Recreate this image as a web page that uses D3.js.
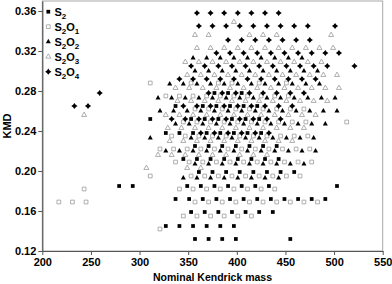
<!DOCTYPE html>
<html>
<head>
<meta charset="utf-8">
<script src="https://cdn.jsdelivr.net/npm/d3@7"></script>
<style>
  body { margin: 0; background: #fff; }
  svg { display: block; font-family: Arial, "Liberation Sans", sans-serif; }
</style>
</head>
<body>
<svg id="chart" width="392" height="284"></svg>
<script>
const xTicks = [200, 250, 300, 350, 400, 450, 500, 550];
const yTicks = [0.12, 0.16, 0.2, 0.24, 0.28, 0.32, 0.36];
const xTitle = "Nominal Kendrick mass";
const yTitle = "KMD";

// legend labels, alternating normal / subscript parts
const legendLabels = [
  ["S", "2"],
  ["S", "2", "O", "1"],
  ["S", "2", "O", "2"],
  ["S", "2", "O", "3"],
  ["S", "2", "O", "4"],
];

// each row: [KMD, nominal Kendrick masses]
const s2Rows = [
  [0.132, [357, 371, 385, 399, 455]],
  [0.145, [327, 341, 355, 369, 383, 397]],
  [0.159, [353, 367, 381, 395, 409, 423, 437]],
  [0.172, [337, 351, 365, 379, 393, 407, 421, 435, 449, 463, 477, 491]],
  [0.185, [279, 293, 349, 363, 377, 391, 405, 419, 433, 503]],
  [0.199, [361, 375, 389, 403, 417, 431, 445, 459]],
  [0.212, [345, 359, 373, 387, 401, 415, 429, 443]],
  [0.225, [357, 371, 385, 399, 413, 427, 441]],
  [0.238, [327, 341, 355, 369, 383, 397, 411, 425]],
  [0.252, [311, 353, 367, 381, 395, 409, 423]],
  [0.265, [337, 365, 379, 393, 407, 421]],
  [0.278, [377, 391, 405]],
];

const s2o1Rows = [
  [0.142, [321]],
  [0.155, [345, 359, 373, 387, 401, 415]],
  [0.169, [217, 231, 245, 357, 371, 385, 399, 413, 427, 441, 455, 469, 483]],
  [0.182, [243, 341, 355, 369, 383, 397, 411, 425, 439]],
  [0.195, [311, 353, 367, 381, 395, 409, 423, 437, 451, 465]],
  [0.209, [337, 351, 365, 379, 393, 407, 421, 435, 449, 463, 477]],
  [0.222, [321, 335, 349, 363, 377, 391, 405, 419, 433, 447, 461, 475]],
  [0.235, [333, 347, 361, 375, 389, 403, 417, 431, 445, 459, 473]],
  [0.249, [345, 359, 373, 387, 401, 415, 429, 443, 457, 471, 513]],
  [0.262, [357, 371, 385, 399, 413, 427, 441, 455, 469]],
  [0.275, [327, 341, 355, 369, 383, 397, 411, 425, 439, 453]],
  [0.288, [311, 353, 381, 395, 423, 451]],
];

const s2o2Rows = [
  [0.313, [355, 369, 383, 397, 411, 425, 439, 453, 467]],
  [0.300, [357, 371, 385, 399, 413, 427, 441, 455, 469, 483]],
  [0.287, [331, 345, 359, 373, 387, 401, 415, 429, 443, 457, 471, 485]],
  [0.273, [319, 333, 347, 361, 375, 389, 403, 417, 431, 445, 459, 473, 487, 501]],
  [0.260, [321, 335, 349, 363, 377, 391, 405, 419, 433, 447, 461, 475, 489, 503]],
  [0.247, [337, 351, 365, 379, 393, 407, 421, 435, 449, 463, 477, 491]],
  [0.233, [311, 353, 367, 381, 395, 409, 423, 437, 451, 465, 479]],
  [0.220, [327, 341, 355, 369, 383, 397, 411, 425, 439, 453, 467, 481]],
  [0.207, [357, 371, 385, 399, 413, 427, 441, 455, 469]],
  [0.193, [345, 359, 373, 387, 401, 415, 429, 443]],
];

const s2o3Rows = [
  [0.349, [397]],
  [0.336, [357, 371, 413, 427, 441, 497]],
  [0.323, [359, 373, 387, 401, 415, 429, 443, 457, 471, 485, 499]],
  [0.309, [347, 361, 375, 389, 403, 417, 431, 445, 459, 473, 487]],
  [0.296, [349, 363, 377, 391, 405, 419, 433, 447, 461, 475, 489, 503]],
  [0.283, [337, 351, 365, 379, 393, 407, 421, 435, 449, 463, 477, 491, 505]],
  [0.270, [339, 353, 367, 381, 395, 409, 423, 437, 451, 465, 479, 493]],
  [0.256, [243, 327, 341, 355, 369, 383, 397, 411, 425, 439, 453, 467, 481]],
  [0.243, [329, 343, 357, 371, 385, 399, 413, 427, 441, 455, 469]],
  [0.230, [331, 345, 359, 373, 387, 401, 415, 429, 443, 457]],
  [0.216, [319, 333, 347, 361, 375, 389, 403, 417, 431]],
  [0.203, [307, 349, 363]],
];

const s2o4Rows = [
  [0.358, [359, 373, 387, 401, 415, 429, 443]],
  [0.345, [361, 375, 389, 403, 417, 431, 445, 459, 473, 501]],
  [0.331, [391, 405, 419, 433, 447, 461, 475]],
  [0.318, [379, 393, 407, 421, 435, 449, 463, 477, 491, 505]],
  [0.305, [353, 367, 381, 395, 409, 423, 437, 451, 465, 479, 493, 521]],
  [0.292, [341, 355, 369, 383, 397, 411, 425, 439, 453, 467, 481]],
  [0.278, [259, 371, 385, 399, 413, 427, 441, 455, 469]],
  [0.265, [233, 247, 345, 359, 373, 387, 401, 415, 429, 443, 457]],
  [0.252, [333, 347, 361, 375, 389, 403, 417, 431, 445]],
  [0.238, [363, 377, 391, 405, 419, 433]],
];

const svg = d3.select("#chart");
const x = d3.scaleLinear().domain([200, 550]).range([42.3, 382.7]);
const y = d3.scaleLinear().domain([0.12, 0.37]).range([251, 1]);

const star = {
  draw(context, size) {
    const r = Math.sqrt(size) * 0.78;
    const q = r * 0.42;
    context.moveTo(0, -r);
    context.lineTo(q, -q);
    context.lineTo(r, 0);
    context.lineTo(q, q);
    context.lineTo(0, r);
    context.lineTo(-q, q);
    context.lineTo(-r, 0);
    context.lineTo(-q, -q);
    context.closePath();
  },
};

const grey = "#9a9a9a";
const styles = [
  { type: d3.symbolSquare, size: 14, fill: "#000", stroke: "none" },
  { type: d3.symbolSquare, size: 14, fill: "#fff", stroke: grey },
  { type: d3.symbolTriangle, size: 11, fill: "#000", stroke: "none" },
  { type: d3.symbolTriangle, size: 11, fill: "#fff", stroke: grey },
  { type: star, size: 16, fill: "#000", stroke: "none" },
];

const allRows = [s2Rows, s2o1Rows, s2o2Rows, s2o3Rows, s2o4Rows];

// frame
svg.append("rect")
  .attr("x", x(200)).attr("y", y(0.37))
  .attr("width", x(550) - x(200)).attr("height", y(0.12) - y(0.37))
  .attr("fill", "none").attr("stroke", "#a8a8a8").attr("stroke-width", 1);

// points
allRows.forEach((rows, i) => {
  const st = styles[i];
  const points = rows.flatMap(([kmd, masses]) => masses.map((m) => [m, kmd]));
  svg.append("g")
    .selectAll("path")
    .data(points)
    .join("path")
    .attr("transform", (d) => `translate(${x(d[0])},${y(d[1])})`)
    .attr("d", d3.symbol().type(st.type).size(st.size))
    .attr("fill", st.fill)
    .attr("stroke", st.stroke)
    .attr("stroke-width", 0.8);
});

// axes
const yAxis = svg.append("g")
  .attr("transform", `translate(${x(200)},0)`)
  .call(d3.axisLeft(y).tickValues(yTicks).tickFormat(d3.format(".2f")).tickSize(4).tickPadding(2).tickSizeOuter(0));
const xAxis = svg.append("g")
  .attr("transform", `translate(0,${y(0.12)})`)
  .call(d3.axisBottom(x).tickValues(xTicks).tickFormat(d3.format("d")).tickSize(4).tickPadding(3).tickSizeOuter(0));

[xAxis, yAxis].forEach((g) => {
  g.select(".domain").attr("stroke", "#555").attr("stroke-width", 1.2);
  g.selectAll(".tick line").attr("stroke", "#555");
  g.selectAll(".tick text")
    .attr("fill", "#000")
    .attr("font-size", 11)
    .attr("font-weight", "bold")
    .attr("font-family", 'Arial, "Liberation Sans", sans-serif');
});

// titles
svg.append("text")
  .attr("x", (x(200) + x(550)) / 2)
  .attr("y", 281)
  .attr("text-anchor", "middle")
  .attr("font-size", 10.5)
  .attr("font-weight", "bold")
  .text(xTitle);

svg.append("text")
  .attr("transform", `translate(11,${(y(0.12) + y(0.37)) / 2}) rotate(-90)`)
  .attr("text-anchor", "middle")
  .attr("font-size", 11)
  .attr("font-weight", "bold")
  .text(yTitle);

// legend
const legend = svg.append("g");
legendLabels.forEach((parts, i) => {
  const st = styles[i];
  const ly = 11.7 + i * 15;
  legend.append("path")
    .attr("transform", `translate(48.3,${ly})`)
    .attr("d", d3.symbol().type(st.type).size(st.size))
    .attr("fill", st.fill)
    .attr("stroke", st.stroke)
    .attr("stroke-width", 0.8);
  const t = legend.append("text")
    .attr("x", 54.5)
    .attr("y", ly + 4)
    .attr("font-size", 11)
    .attr("font-weight", "bold");
  parts.forEach((p, j) => {
    const sub = j % 2 === 1;
    t.append("tspan")
      .attr("font-size", sub ? 8 : 11)
      .attr("dy", j === 0 ? 0 : sub ? 3 : -3)
      .text(p);
  });
});
</script>
</body>
</html>
